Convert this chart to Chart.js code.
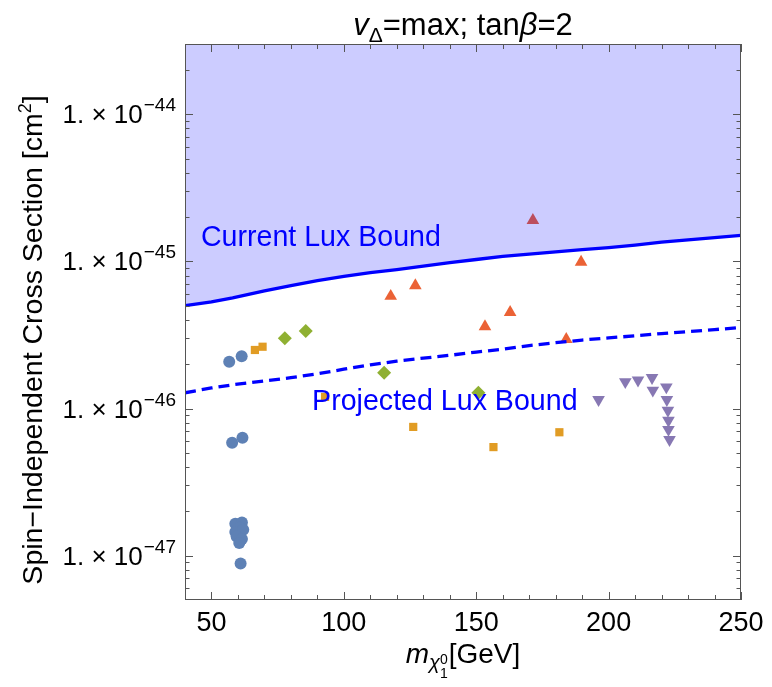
<!DOCTYPE html>
<html>
<head>
<meta charset="utf-8">
<title>vΔ=max; tanβ=2</title>
<script src="https://cdn.jsdelivr.net/npm/chart.js@4.4.0/dist/chart.umd.min.js"></script>
<style>
  html, body { margin: 0; padding: 0; background: #fff; }
  canvas { display: block; }
</style>
</head>
<body>
<canvas id="grafic" width="772" height="687"></canvas>
<script>
// Límites de LUX en función de la masa del neutralino (GeV)
const boundMass = [40, 50, 58, 70, 80, 90, 100, 110, 120, 130, 140, 150, 160, 170, 180, 190, 200, 210, 220, 230, 240, 250];
const currentLux = [5.0e-46, 5.3e-46, 5.65e-46, 6.3e-46, 6.85e-46, 7.4e-46, 7.9e-46, 8.4e-46, 8.8e-46, 9.3e-46, 9.8e-46, 1.03e-45,
  1.08e-45, 1.12e-45, 1.16e-45, 1.2e-45, 1.24e-45, 1.29e-45, 1.35e-45, 1.40e-45, 1.45e-45, 1.50e-45];
const projectedLux = [1.28e-46, 1.38e-46, 1.45e-46, 1.54e-46, 1.62e-46, 1.72e-46, 1.85e-46, 1.98e-46, 2.1e-46, 2.2e-46, 2.3e-46, 2.42e-46,
  2.53e-46, 2.68e-46, 2.8e-46, 2.92e-46, 3.02e-46, 3.12e-46, 3.23e-46, 3.33e-46, 3.44e-46, 3.55e-46];

// Puntos del escaneo (masa, sección eficaz)
const circleMass = [56.7, 61.4, 57.8, 61.7, 59.0, 61.5, 60.5, 59.0, 62.0, 59.5, 61.5, 60.5, 61.0];
const circleSigma = [2.08e-46, 2.27e-46, 5.86e-47, 6.34e-47, 1.65e-47, 1.68e-47, 1.55e-47, 1.45e-47, 1.5e-47, 1.35e-47, 1.3e-47, 1.22e-47, 8.85e-48];
const squareMass = [66.4, 69.3, 92.9, 126.2, 156.5, 181.4];
const squareSigma = [2.5e-46, 2.63e-46, 1.2e-46, 7.5e-47, 5.47e-47, 6.9e-47];
const diamondMass = [77.7, 85.6, 115.2, 150.8];
const diamondSigma = [3.0e-46, 3.37e-46, 1.75e-46, 1.28e-46];
const upMass = [117.7, 127.0, 153.3, 162.8, 171.4, 184.0, 189.6];
const upSigma = [5.8e-46, 6.85e-46, 3.6e-46, 4.5e-46, 1.9e-45, 2.95e-46, 0.99e-45];
const downMass = [196.2, 206.3, 211.1, 216.4, 216.7, 221.8, 222.0, 222.4, 222.6, 222.6, 223.0];
const downSigma = [1.15e-46, 1.52e-46, 1.56e-46, 1.62e-46, 1.33e-46, 1.40e-46, 1.15e-46, 9.7e-47, 8.3e-47, 7.2e-47, 6.15e-47];

// Ejes
const xMin = 40, xMax = 250;
const xTicks = [50, 100, 150, 200, 250];
const yMin = 5e-48, yMax = 3e-44;
const yTickExponents = [-47, -46, -45, -44];

// Textos dentro del gráfico (posición en coordenadas de datos)
const etiquetes = [
  { text: 'Current Lux Bound', x: 46, y: 1.28e-45 },
  { text: 'Projected Lux Bound', x: 88, y: 9.7e-47 }
];

const FONT = '"Liberation Sans", Arial, Helvetica, sans-serif';

function punts(xs, ys) { return xs.map((v, i) => ({ x: v, y: ys[i] })); }

// Dibuja una secuencia de trozos de texto (cursiva, subíndices...) centrada en cx
function drawRuns(ctx, runs, cx, baseline) {
  let total = 0;
  runs.forEach(r => {
    ctx.font = r.font;
    r.w = ctx.measureText(r.text).width;
    if (r.stack) {
      ctx.font = r.stack.font;
      r.w = Math.max(r.w, ctx.measureText(r.stack.text).width);
    }
    total += r.w + (r.gap || 0);
  });
  let xx = cx - total / 2;
  runs.forEach(r => {
    ctx.font = r.font;
    ctx.fillText(r.text, xx, baseline + (r.dy || 0));
    if (r.stack) {
      ctx.font = r.stack.font;
      ctx.fillText(r.stack.text, xx, baseline + r.stack.dy);
    }
    xx += r.w + (r.gap || 0);
  });
}

const marcPlugin = {
  id: 'marc',
  afterDatasetsDraw(chart) {
    const { ctx, scales: { x, y } } = chart;
    ctx.save();
    ctx.fillStyle = '#0000ff';
    ctx.font = '28.6px ' + FONT;
    ctx.textAlign = 'left';
    ctx.textBaseline = 'alphabetic';
    etiquetes.forEach(e => ctx.fillText(e.text, x.getPixelForValue(e.x), y.getPixelForValue(e.y)));
    ctx.restore();
  },
  afterDraw(chart) {
    const { ctx, chartArea: a, scales: { x, y } } = chart;
    ctx.save();

    // marco
    ctx.strokeStyle = '#555';
    ctx.lineWidth = 1;
    ctx.strokeRect(a.left + 0.5, a.top + 0.5, a.right - a.left - 1, a.bottom - a.top - 1);

    // marcas del eje x (hacia dentro, abajo y arriba)
    ctx.beginPath();
    for (let v = xMin; v <= xMax; v += 10) {
      const px = Math.round(x.getPixelForValue(v)) + 0.5;
      const len = xTicks.includes(v) ? 8 : 5;
      ctx.moveTo(px, a.bottom); ctx.lineTo(px, a.bottom - len);
      ctx.moveTo(px, a.top); ctx.lineTo(px, a.top + len);
    }
    // marcas del eje y logarítmico
    for (let e = -48; e <= -44; e++) {
      for (let k = 1; k <= 9; k++) {
        const v = k * Math.pow(10, e);
        if (v <= yMin || v >= yMax) continue;
        const py = Math.round(y.getPixelForValue(v)) + 0.5;
        const len = k === 1 ? 8 : 4.5;
        ctx.moveTo(a.left, py); ctx.lineTo(a.left + len, py);
        ctx.moveTo(a.right, py); ctx.lineTo(a.right - len, py);
      }
    }
    ctx.stroke();

    // etiquetas del eje x
    ctx.fillStyle = '#000';
    ctx.font = '27px ' + FONT;
    ctx.textAlign = 'center';
    ctx.textBaseline = 'alphabetic';
    xTicks.forEach(v => ctx.fillText(String(v), x.getPixelForValue(v), a.bottom + 31));

    // etiquetas del eje y: 1. × 10^n
    ctx.textAlign = 'left';
    yTickExponents.forEach(e => {
      const py = y.getPixelForValue(Math.pow(10, e));
      const base = '1. \u00d7 10';
      const sup = '\u2212' + Math.abs(e);
      ctx.font = '19px ' + FONT;
      const ws = ctx.measureText(sup).width;
      ctx.font = '26px ' + FONT;
      const wb = ctx.measureText(base).width;
      const right = a.left - 9;
      ctx.fillText(base, right - ws - wb - 1, py + 9);
      ctx.font = '19px ' + FONT;
      ctx.fillText(sup, right - ws, py - 3);
    });

    // título
    const cx = (a.left + a.right) / 2;
    drawRuns(ctx, [
      { text: 'v', font: 'italic 31px ' + FONT },
      { text: '\u0394', font: '21px ' + FONT, dy: 7 },
      { text: '=max; tan', font: '31px ' + FONT },
      { text: '\u03b2', font: 'italic 31px ' + FONT },
      { text: '=2', font: '31px ' + FONT }
    ], cx, 35);

    // título eje x
    drawRuns(ctx, [
      { text: 'm', font: 'italic 28px ' + FONT },
      { text: '\u03c7', font: 'italic 20px ' + FONT, dy: 6, gap: 0 },
      { text: '1', font: '14px ' + FONT, dy: 15, stack: { text: '0', font: '14px ' + FONT, dy: 1 }, gap: 1 },
      { text: '[GeV]', font: '28px ' + FONT }
    ], cx, a.bottom + 63);

    // título eje y
    ctx.translate(42, (a.top + a.bottom) / 2 + 18);
    ctx.rotate(-Math.PI / 2);
    drawRuns(ctx, [
      { text: 'Spin\u2212Independent Cross Section [cm', font: '28.5px ' + FONT },
      { text: '2', font: '18px ' + FONT, dy: -11 },
      { text: ']', font: '28.5px ' + FONT }
    ], 0, 0);

    ctx.restore();
  }
};

const colors = ['#5e81b5', '#e19c24', '#8fb032', '#eb6235', '#8778b3'];

function serie(data, color, style, radius, rotation) {
  return {
    data: data,
    showLine: false,
    pointStyle: style,
    pointRadius: radius,
    pointHoverRadius: radius,
    pointRotation: rotation || 0,
    pointBackgroundColor: color,
    pointBorderWidth: 0,
    borderWidth: 0,
    order: 1
  };
}

new Chart(document.getElementById('grafic'), {
  type: 'line',
  data: {
    datasets: [
      {
        data: punts(boundMass, currentLux),
        borderColor: '#0000ff',
        borderWidth: 3.3,
        pointRadius: 0,
        tension: 0,
        fill: 'end',
        backgroundColor: 'rgba(0, 0, 255, 0.2)',
        order: 0
      },
      {
        data: punts(boundMass, projectedLux),
        borderColor: '#0000ff',
        borderWidth: 3.3,
        borderDash: [11, 6],
        pointRadius: 0,
        tension: 0,
        fill: false,
        order: 0
      },
      serie(punts(circleMass, circleSigma), colors[0], 'circle', 6),
      serie(punts(squareMass, squareSigma), colors[1], 'rect', 5.8),
      serie(punts(diamondMass, diamondSigma), colors[2], 'rectRot', 7),
      serie(punts(upMass, upSigma), colors[3], 'triangle', 7.3),
      serie(punts(downMass, downSigma), colors[4], 'triangle', 7.3, 180)
    ]
  },
  options: {
    responsive: false,
    animation: false,
    devicePixelRatio: 1,
    layout: { padding: { top: 44, right: 31, left: 0, bottom: 0 } },
    plugins: { legend: { display: false }, tooltip: { enabled: false } },
    events: [],
    scales: {
      x: {
        type: 'linear',
        min: xMin,
        max: xMax,
        grid: { display: false, drawTicks: false },
        border: { display: false },
        ticks: { display: false },
        afterFit: s => { s.height = 87; }
      },
      y: {
        type: 'logarithmic',
        min: yMin,
        max: yMax,
        grid: { display: false, drawTicks: false },
        border: { display: false },
        ticks: { display: false },
        afterFit: s => { s.width = 185; }
      }
    }
  },
  plugins: [marcPlugin]
});
</script>
</body>
</html>
